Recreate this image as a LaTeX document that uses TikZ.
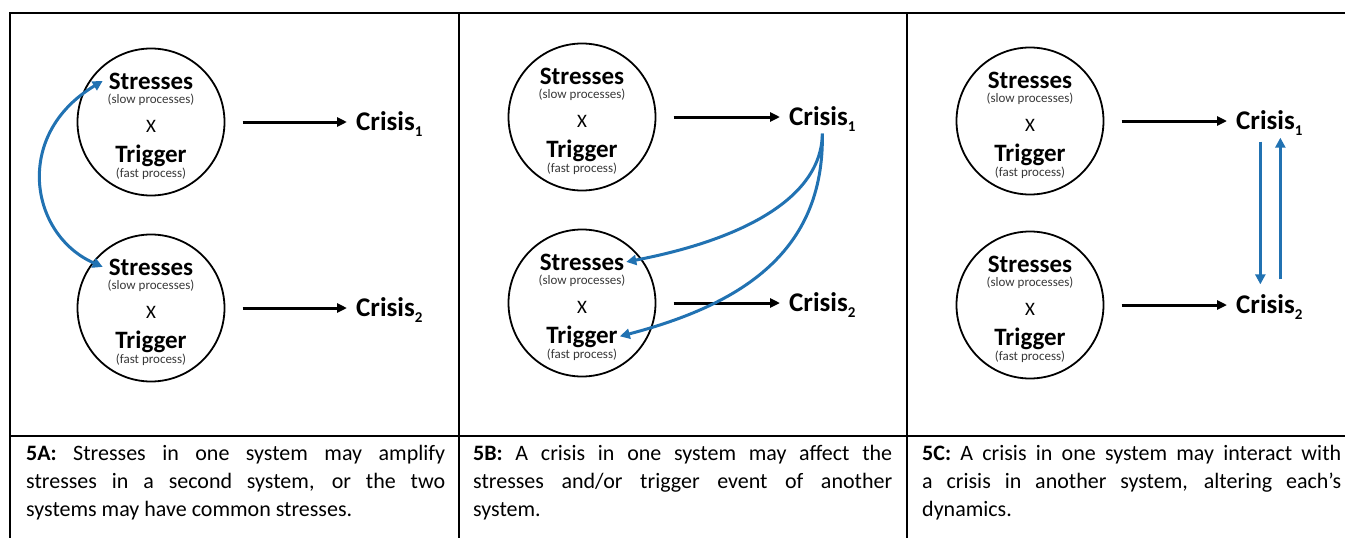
\documentclass[tikz,border=0pt]{standalone}
\usepackage{fontspec}
\setmainfont{Carlito}
\usetikzlibrary{arrows.meta}

\definecolor{linkblue}{RGB}{33,114,178}
\newcommand{\lowidx}[1]{\raisebox{-6pt}{\fontsize{15}{15}\selectfont #1}}

\tikzset{
    sysring/.style={circle, draw, line width=1.8pt, minimum size=147pt, inner sep=0pt, outer sep=18pt},
    bigword/.style={font=\bfseries\fontsize{25}{25}\selectfont, inner sep=2pt, anchor=base},
    smallword/.style={font=\fontsize{13}{13}\selectfont, text=black!78, inner sep=0pt, anchor=base},
    timesword/.style={font=\fontsize{19}{19}\selectfont, inner sep=0pt, anchor=base},
    crisisword/.style={font=\bfseries\fontsize{27}{27}\selectfont, inner xsep=9pt, inner ysep=2pt, anchor=base west},
    caption/.style={font=\fontsize{22}{28}\selectfont, text width=419pt, align=justify, inner sep=0pt, anchor=north west},
}

\begin{document}
\begin{tikzpicture}[x=1pt, y=-1pt]

    \useasboundingbox (0,0) rectangle (1345,538);

    % table frame
    \draw[line width=2pt] (10,538) -- (10,13) -- (1345,13);
    \draw[line width=2pt] (10,436) -- (1345,436);
    \foreach \xx in {459,907} \draw[line width=2pt] (\xx,13) -- (\xx,538);

    \foreach \nm/\cx/\cy in {a1/151/122, a2/151/308, b1/582/117, b2/582/303, c1/1030/121, c2/1030/305} {
        \node[sysring] (\nm) at (\cx,\cy) {};
        \node[bigword] (\nm s) at (\cx,\cy-33) {Stresses};
        \node[smallword] (\nm sl) at (\cx,\cy-19) {(slow processes)};
        \node[timesword] (\nm x) at (\cx,\cy+10) {X};
        \node[bigword] (\nm t) at (\cx,\cy+40) {Trigger};
        \node[smallword] (\nm f) at (\cx,\cy+55) {(fast process)};
    }

    \node[crisisword] (a1c) at (347,130.5) {Crisis\lowidx{1}};
    \node[crisisword] (a2c) at (347,316.5) {Crisis\lowidx{2}};
    \node[crisisword] (b1c) at (780,125.5) {Crisis\lowidx{1}};
    \node[crisisword] (b2c) at (780,311.5) {Crisis\lowidx{2}};
    \node[crisisword] (c1c) at (1227,129.5) {Crisis\lowidx{1}};
    \node[crisisword] (c2c) at (1227,313.5) {Crisis\lowidx{2}};

    \begin{scope}[>={Triangle[length=10pt, width=9pt]}, line width=3pt]
        \foreach \nm in {a1,a2,b1,b2,c1,c2}
            \draw[->] (\nm.east) -- (\nm.east -| \nm c.west);
    \end{scope}

    \begin{scope}[>={Triangle[length=10pt, width=10pt]}, linkblue, line width=3pt]
        \draw[<->] ([xshift=-4pt]a1s.west) .. controls +(-90,54) and +(-73,-32) .. ([xshift=-4pt]a2s.west);
        \draw[->] (b1c.south) .. controls +(-1,67) and +(110,-21) .. (b2s.east);
        \draw[->] (b1c.south) .. controls +(2,118) and +(122,-32) .. (b2t.east);
        \draw[->, shorten <=4pt, shorten >=8pt] ([xshift=-9pt]c1c.south) -- ([xshift=-9pt]c2c.north);
        \draw[->, shorten <=13pt] ([xshift=11pt]c2c.north) -- ([xshift=11pt]c1c.south);
    \end{scope}

    \node[caption] (capa) at (26,445) {\textbf{5A:} Stresses in one system may amplify\linebreak stresses in a second system, or the two\linebreak systems may have common stresses.};
    \node[caption] (capb) at (473,445) {\textbf{5B:} A crisis in one system may affect the\linebreak stresses and/or trigger event of another\linebreak system.};
    \node[caption] (capc) at (922,445) {\textbf{5C:} A crisis in one system may interact with\linebreak a crisis in another system, altering each’s\linebreak dynamics.};

\end{tikzpicture}
\end{document}
